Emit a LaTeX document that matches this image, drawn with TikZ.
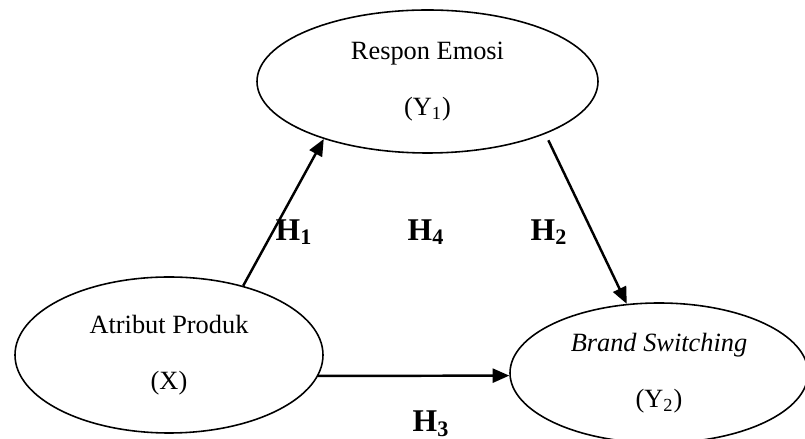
\documentclass[tikz,border=0pt]{standalone}
\usepackage{fontspec}
\setmainfont{Liberation Serif}
\usetikzlibrary{shapes.geometric, arrows.meta}

\begin{document}
\begin{tikzpicture}[
    varbox/.style={ellipse, draw=black, line width=0.9pt, inner sep=0pt, align=center, font=\fontsize{15}{32}\selectfont},
    hyp/.style={font=\fontsize{18}{20}\selectfont\bfseries},
    arr/.style={line width=1.4pt, -{Triangle[length=9.5pt, width=8pt]}}
  ]
    \useasboundingbox (0,0) rectangle (16.1,8.78);
    \node [varbox, minimum width=6.82cm, minimum height=2.86cm] (Y1) at (8.55,7.15) {Respon Emosi\\(Y\textsubscript{1})};
    \node [varbox, minimum width=6.16cm, minimum height=3.12cm] (X) at (3.38,1.68) {Atribut Produk\\(X)};
    \node [varbox, minimum width=5.96cm, minimum height=2.80cm] (Y2) at (13.18,1.32) {\textit{Brand Switching}\\(Y\textsubscript{2})};
    \draw [arr] (X.43.8) -- (Y1.209);
    \draw [arr, shorten <=0.14cm] (Y1.-24.8) -- (Y2.115.3);
    \draw [arr] (X.-8) -- (Y2.181);
    \node [hyp] (h1) at (5.88,4.14) {H\textsubscript{1}};
    \node [hyp] (h4) at (8.52,4.14) {H\textsubscript{4}};
    \node [hyp] (h2) at (10.98,4.14) {H\textsubscript{2}};
    \node [hyp] (h3) at (8.62,0.30) {H\textsubscript{3}};
  \end{tikzpicture}
\end{document}
